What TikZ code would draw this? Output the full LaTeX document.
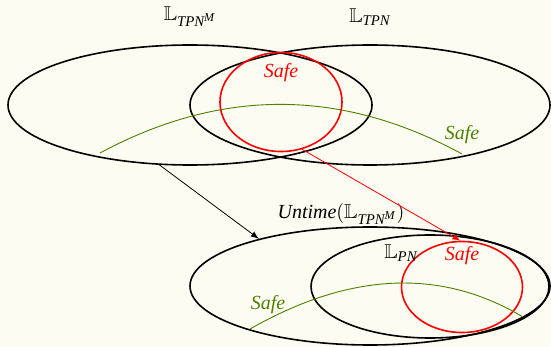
\documentclass[tikz,border=0pt]{standalone}
\usepackage{mathptmx}
\usepackage{amsmath}
\usepackage{amssymb}
\usepackage[no-math]{fontspec}
\setmainfont{Liberation Serif}
\usepackage{tikz}
\usetikzlibrary{shapes.geometric,positioning}

\definecolor{bgcream}{RGB}{252,252,242}
\definecolor{safegreen}{RGB}{78,128,0}

\newcommand{\TPNM}{\mathbb{L}_{\textit{TPN}^{\textit{M}}}}

\tikzset{
	lang/.style={ellipse, draw, line width=0.8pt, inner sep=0pt},
	safeset/.style={ellipse, draw=red, line width=0.8pt, inner sep=0pt},
	safeline/.style={safegreen, line width=0.45pt},
	lbl/.style={inner sep=1pt, font=\fontsize{10}{12}\selectfont\itshape},
}

\begin{document}
\begin{tikzpicture}[x=0.5pt, y=-0.5pt]
		\fill[bgcream] (0,0) rectangle (551,347);
		\useasboundingbox (0,0) rectangle (551,347);
		% timed languages
		\node[lang, minimum width=182pt, minimum height=60pt] (tpnm) at (190,105) {};
		\node[lang, minimum width=180pt, minimum height=60pt] (tpn) at (370,105) {};
		\node[safeset, minimum width=61pt, minimum height=49.5pt] (safet) at (281,102) {};
		\node[lbl] (ltpnm) at (190,17) {$\TPNM$};
		\node[lbl] (ltpn) at (370,17) {$\mathbb{L}_{\textit{TPN}}$};
		\node[lbl, red] (safetl) at (281,73) {Safe};
		\draw[safeline] (100,153) .. controls (221,88) and (341,88) .. (462,154);
		\node[lbl, safegreen] (safetg) at (462,135) {Safe};
		% untimed languages
		\node[lang, minimum width=180pt, minimum height=59pt] (untime) at (370,286) {};
		\node[lang, minimum width=119pt, minimum height=51.5pt] (pn) at (430,286.5) {};
		\node[safeset, minimum width=60.5pt, minimum height=45.5pt] (safeb) at (462,287) {};
		\node[lbl] (luntime) at (341,214) {Untime$(\TPNM)$};
		\node[lbl] (lpn) at (401,253) {$\mathbb{L}_{\textit{PN}}$};
		\node[lbl, red] (safebl) at (462,256) {Safe};
		\draw[safeline] (250,329) .. controls (350,272) and (441,268) .. (523,317);
		\node[lbl, safegreen] (safebg) at (268,305) {Safe};
		% arrows
		\draw[-latex, line width=0.4pt] (tpnm.243) -- (untime.157);
		\draw[-latex, red, line width=0.4pt] (safet.294) -- (safeb.92);
	\end{tikzpicture}
\end{document}
